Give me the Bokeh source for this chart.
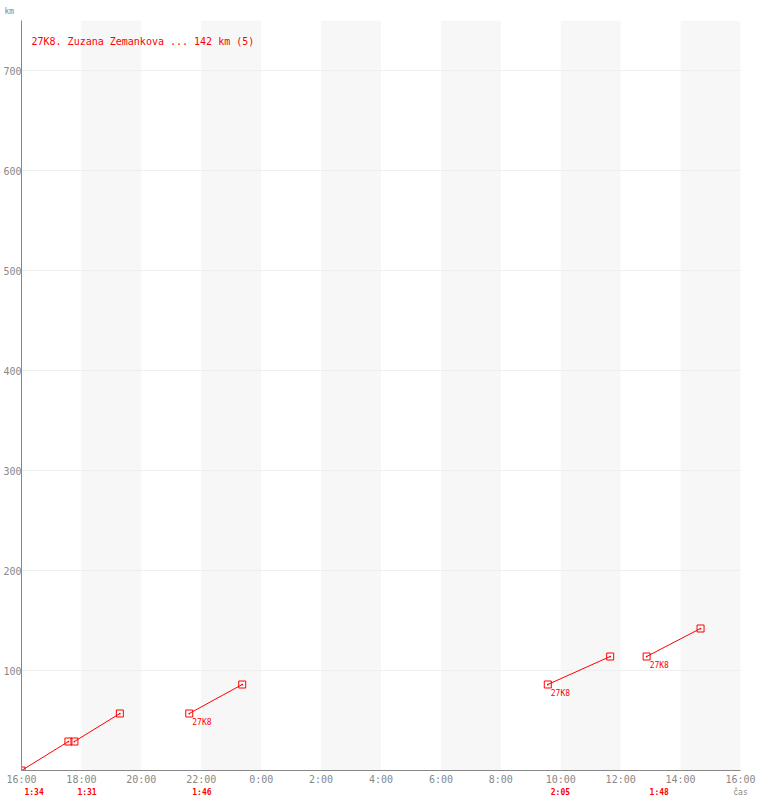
from bokeh.plotting import figure
from bokeh.models import Range1d, FixedTicker, Label, LabelSet, ColumnDataSource, LinearAxis
from bokeh.core.properties import value
from bokeh.embed import file_html
from bokeh.resources import INLINE

# ---- data ----
tick_labels = ["16:00", "18:00", "20:00", "22:00", "0:00", "2:00", "4:00",
               "6:00", "8:00", "10:00", "12:00", "14:00", "16:00"]
seg_start = ["16:00", "17:46", "21:36", "9:34", "12:52"]
seg_end = ["17:34", "19:17", "23:22", "11:39", "14:40"]
km_start = [0, 29, 57, 86, 114]
km_end = [29, 57, 86, 114, 142]
durations = ["1:34", "1:31", "1:46", "2:05", "1:48"]
start_tags = ["", "", "27K8", "27K8", "27K8"]
y_ticks = [100, 200, 300, 400, 500, 600, 700]
title_text = "27K8. Zuzana Zemankova ... 142 km (5)"
y_label = "km"
x_label = "čas"
y_max = 750

RED = "#ff0000"
GRAY = "#888888"
FONT = "DejaVu Sans Mono"
FRAME_W = 718  # approximate frame width in px, used only to nudge label anchors


def hrs(s):
    h, m = map(int, s.split(":"))
    v = h + m / 60 - 16
    if v < 0:
        v += 24
    return v


tick_pos = [2 * i for i in range(len(tick_labels))]
x_end = tick_pos[-1]

xs0 = [hrs(s) for s in seg_start]
xs1 = [hrs(s) for s in seg_end]

p = figure(width=760, height=800, output_backend="svg", toolbar_location=None,
           x_range=Range1d(0, x_end), y_range=Range1d(0, y_max),
           min_border_left=20, min_border_right=20, min_border_top=20,
           min_border_bottom=30)
p.outline_line_color = None
p.background_fill_color = "white"
p.border_fill_color = "white"

# "km" in the top-left corner
p.title.text = y_label
p.title.align = "left"
p.title.offset = -17
p.title.text_font = FONT
p.title.text_font_size = "8px"
p.title.text_font_style = "normal"
p.title.text_color = GRAY
p.title.standoff = 9

# alternating bands
band_left = [tick_pos[i] for i in range(1, len(tick_pos) - 1, 2)]
band_right = [tick_pos[i + 1] for i in range(1, len(tick_pos) - 1, 2)]
p.quad(left=band_left, right=band_right, bottom=0, top=y_max,
       fill_color="#f7f7f7", line_color=None, level="underlay")

# axes
p.xaxis.ticker = FixedTicker(ticks=tick_pos)
p.xaxis.major_label_overrides = {t: l for t, l in zip(tick_pos, tick_labels)}
p.yaxis.ticker = FixedTicker(ticks=y_ticks)
for ax in (p.xaxis[0], p.yaxis[0]):
    ax.axis_line_color = GRAY
    ax.axis_line_width = 1
    ax.major_tick_line_color = None
    ax.minor_tick_line_color = None
    ax.major_tick_out = 0
    ax.major_tick_in = 0
    ax.major_label_text_font = FONT
    ax.major_label_text_font_size = "10px"
    ax.major_label_text_color = GRAY
p.xaxis.major_label_standoff = 3
p.yaxis.major_label_standoff = 0

# second bottom axis: durations of each stage (red, bold), anchored a little right of the start
shift = 12.6 * x_end / FRAME_W
dur_ticks = [x + shift for x in xs0]
dax = LinearAxis(ticker=FixedTicker(ticks=dur_ticks),
                 major_label_overrides={t: d for t, d in zip(dur_ticks, durations)})
dax.axis_line_color = None
dax.major_tick_line_color = None
dax.minor_tick_line_color = None
dax.major_tick_out = 0
dax.major_tick_in = 0
dax.major_label_standoff = 0
dax.major_label_text_font = FONT
dax.major_label_text_font_size = "8px"
dax.major_label_text_font_style = "bold"
dax.major_label_text_color = RED
dax.axis_label = x_label
dax.axis_label_text_font = FONT
dax.axis_label_text_font_size = "8px"
dax.axis_label_text_font_style = "normal"
dax.axis_label_text_color = GRAY
dax.axis_label_standoff = -12
try:
    dax.axis_label_align = "end"
except Exception:
    pass
p.add_layout(dax, "below")

p.xgrid.grid_line_color = None
p.ygrid.grid_line_color = "#eeeeee"
p.ygrid.ticker = FixedTicker(ticks=y_ticks)

# segments
p.segment(x0=xs0, y0=km_start, x1=xs1, y1=km_end, line_color=RED, line_width=1)
p.scatter(x=xs0 + xs1, y=km_start + km_end, marker="square_dot", size=7,
          line_color=RED, fill_color=None, line_width=1)

src = ColumnDataSource(dict(x=xs0, y=km_start, tag=start_tags))
p.add_layout(LabelSet(x="x", y="y", text="tag", source=src, x_offset=3, y_offset=-4,
                      text_baseline="top", text_font_size=value("8px"),
                      text_font=value(FONT), text_color=value(RED)))

p.add_layout(Label(x=0, y=y_max, x_offset=10, y_offset=-15, text=title_text,
                   text_font=FONT, text_font_size="10px", text_color=RED,
                   text_baseline="top"))

open("out.html", "w").write(file_html(p, INLINE))
